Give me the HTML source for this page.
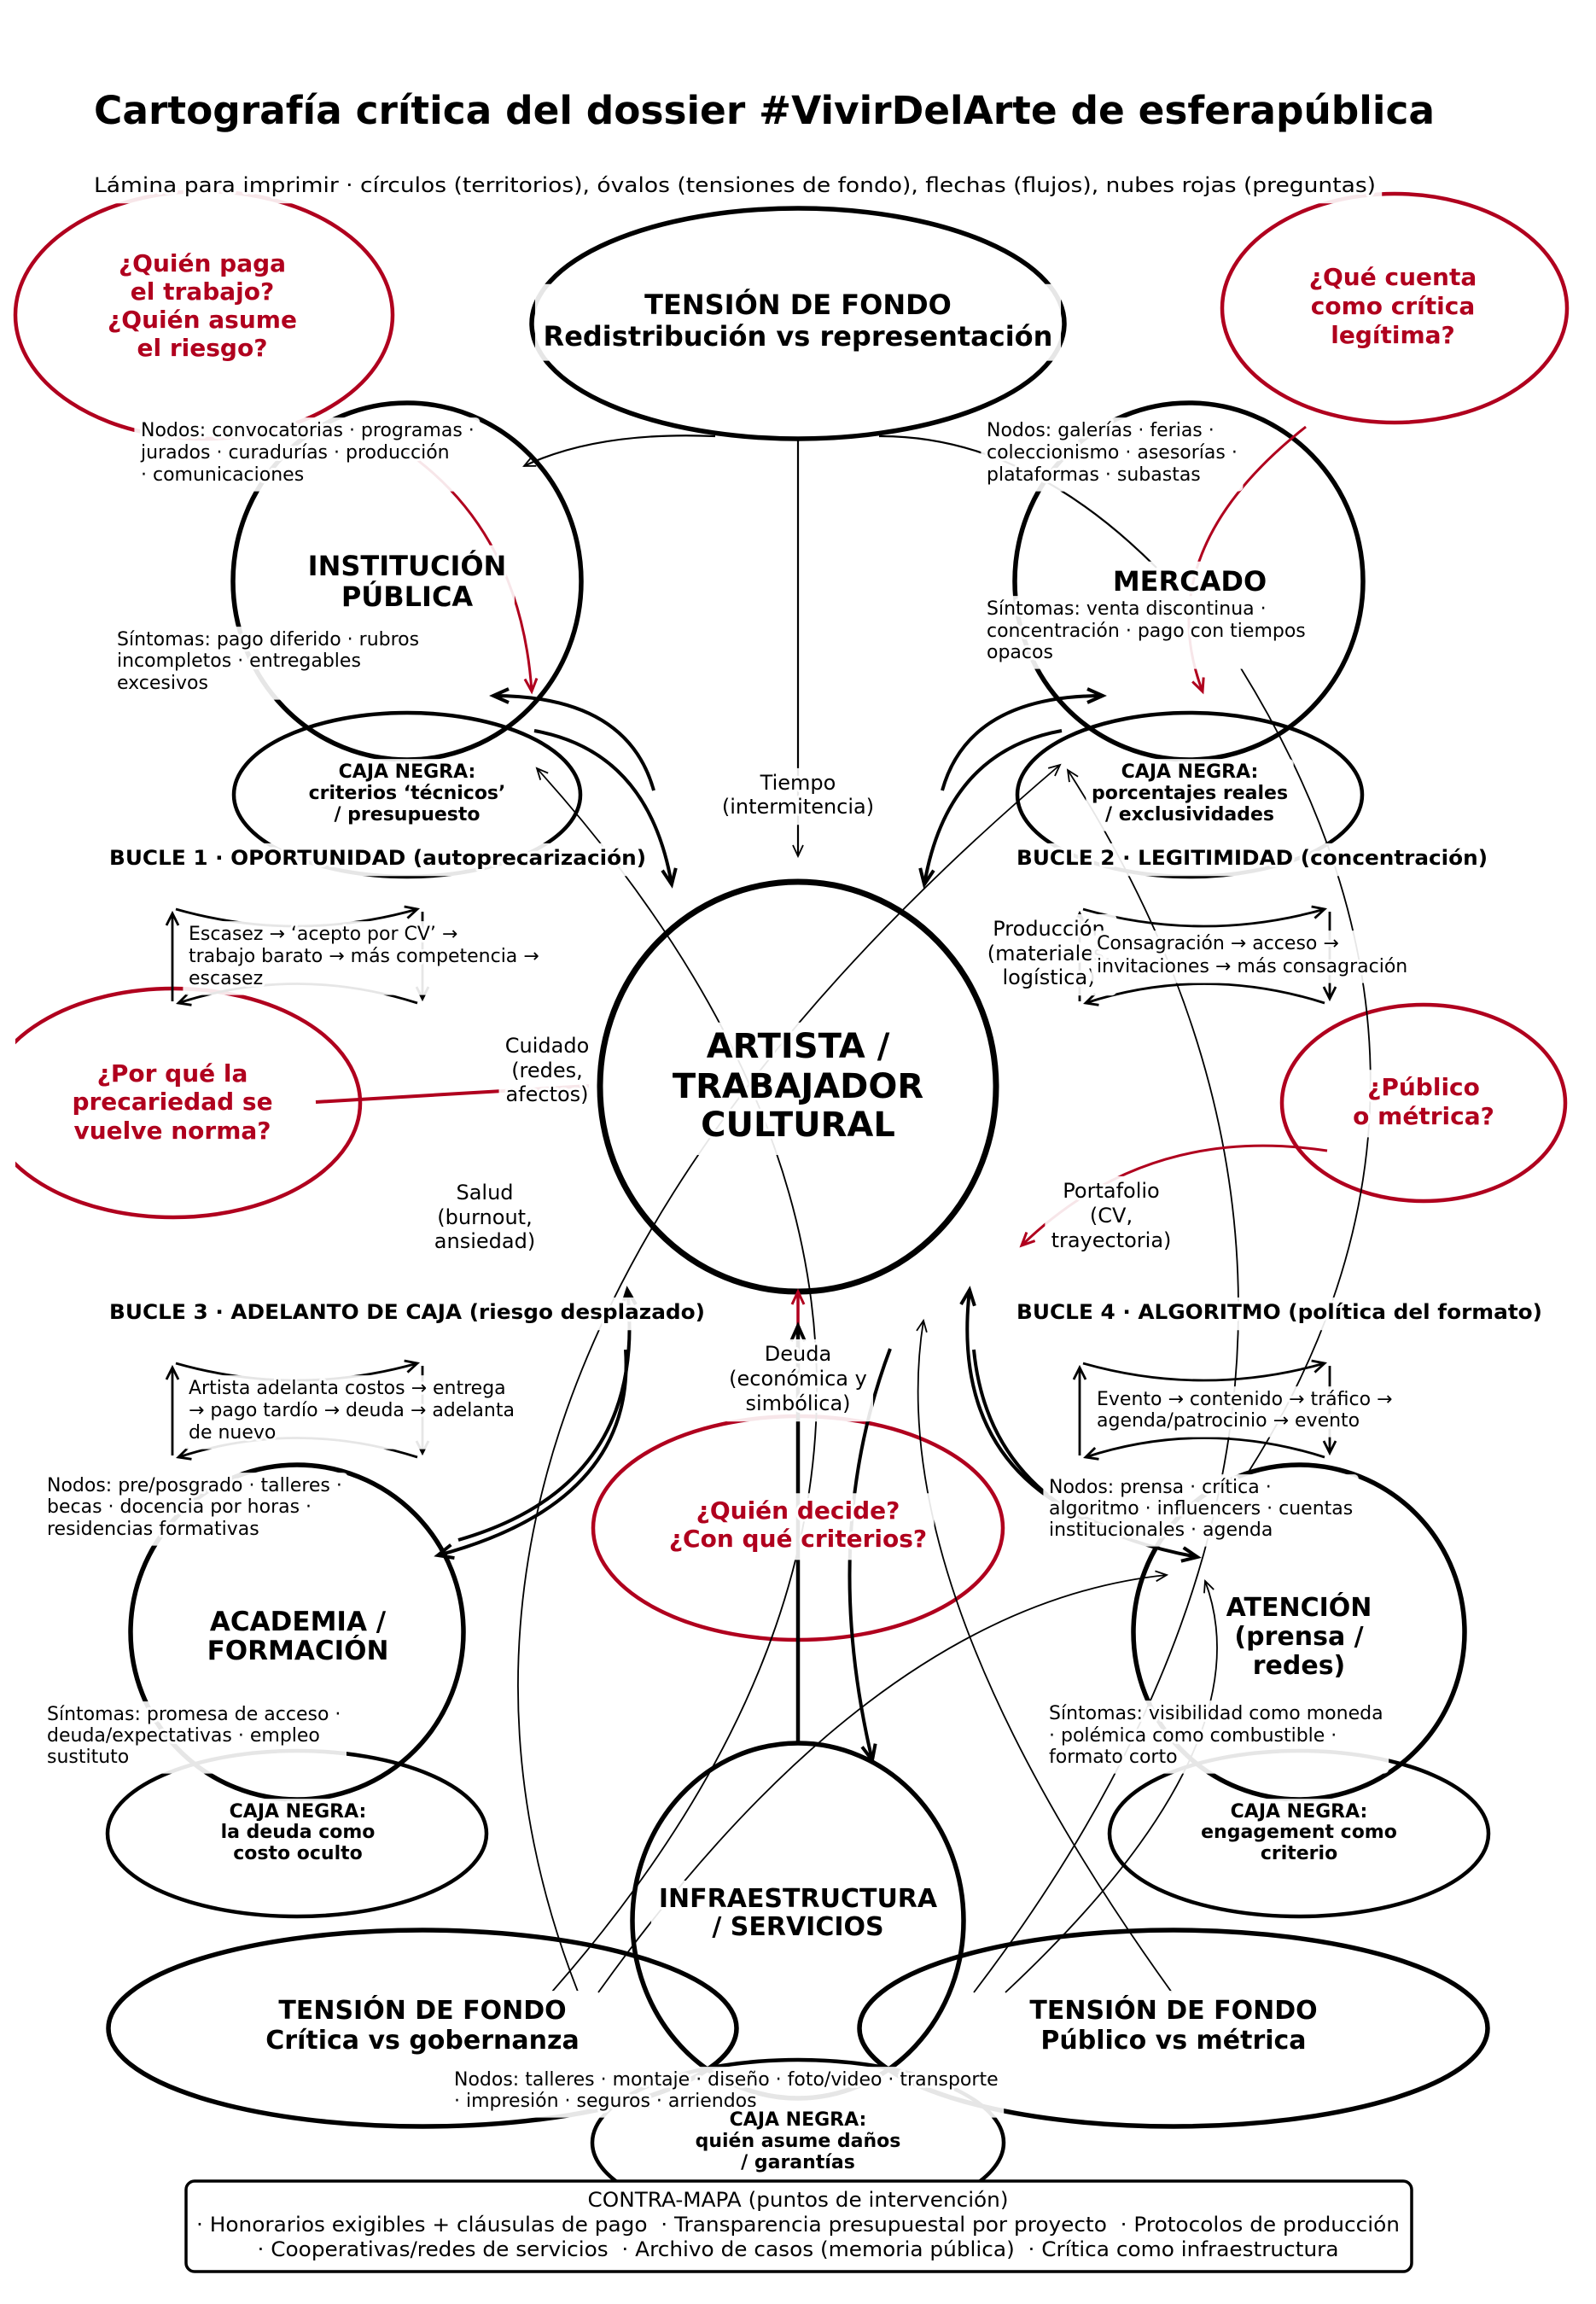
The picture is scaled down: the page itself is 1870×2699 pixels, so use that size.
<!DOCTYPE html>
<html><head><meta charset="utf-8"><style>
html,body{margin:0;padding:0;background:#fff}
svg{display:block}
text{font-family:"DejaVu Sans","Liberation Sans",sans-serif;fill:#000}
.h text,text.h{stroke:#fff;stroke-width:6px;stroke-linejoin:round;stroke-opacity:.9;paint-order:stroke}
.b{font-weight:bold}
.r{fill:#B0001E;font-weight:bold;font-size:28px}
.nd{font-size:22px}
.fl{font-size:24px;text-anchor:middle}
.cn{font-size:22px;font-weight:bold;text-anchor:middle}
.c{text-anchor:middle}
</style></head><body>
<svg id="sv" width="1870" height="2699" viewBox="0 0 1870 2699" xmlns="http://www.w3.org/2000/svg">
<defs>
<marker id="at" markerUnits="userSpaceOnUse" viewBox="-20 -10 22 20" refX="0" refY="0" markerWidth="22" markerHeight="20" orient="auto" overflow="visible"><path d="M-13,-6 L0,0 L-13,6" fill="none" stroke="#000" stroke-width="1.8"/></marker>
<marker id="ak" markerUnits="userSpaceOnUse" viewBox="-20 -10 22 20" refX="0" refY="0" markerWidth="22" markerHeight="20" orient="auto" overflow="visible"><path d="M-18,-8 L0,0 L-18,8" fill="none" stroke="#000" stroke-width="4"/></marker>
<marker id="ar" markerUnits="userSpaceOnUse" viewBox="-20 -10 22 20" refX="0" refY="0" markerWidth="22" markerHeight="20" orient="auto" overflow="visible"><path d="M-15,-7 L0,0 L-15,7" fill="none" stroke="#B0001E" stroke-width="3"/></marker>
<marker id="al" markerUnits="userSpaceOnUse" viewBox="-20 -10 22 20" refX="0" refY="0" markerWidth="22" markerHeight="20" orient="auto" overflow="visible"><path d="M-14,-7 L0,0 L-14,7" fill="none" stroke="#000" stroke-width="2.8"/></marker>
<clipPath id="cl"><rect x="18" y="0" width="1852" height="2699"/></clipPath>
</defs>
<rect width="1870" height="2699" fill="#fff"/>

<!-- red question clouds -->
<g fill="none" stroke="#B0001E" stroke-width="4.5">
<ellipse cx="239" cy="369" rx="221" ry="145"/>
<ellipse cx="1634" cy="361" rx="202" ry="134"/>
<ellipse cx="203" cy="1292" rx="219" ry="134" clip-path="url(#cl)"/>
<ellipse cx="1668" cy="1292" rx="166" ry="115"/>
<ellipse cx="935" cy="1790" rx="240" ry="131"/>
</g>

<!-- territories -->
<g fill="none" stroke="#000">
<ellipse cx="935" cy="379" rx="312" ry="135" stroke-width="5.5"/>
<ellipse cx="477" cy="681" rx="204" ry="209" stroke-width="5.5"/>
<ellipse cx="1393" cy="681" rx="204" ry="209" stroke-width="5.5"/>
<ellipse cx="935" cy="1273" rx="232" ry="240" stroke-width="7"/>
<ellipse cx="348" cy="1912" rx="195" ry="196" stroke-width="5.5"/>
<ellipse cx="1522" cy="1912" rx="194" ry="196" stroke-width="5.5"/>
<ellipse cx="935" cy="2250" rx="194" ry="208" stroke-width="5.5"/>
<ellipse cx="477" cy="931" rx="203" ry="96" stroke-width="4.5"/>
<ellipse cx="1394" cy="931" rx="202" ry="96" stroke-width="4.5"/>
<ellipse cx="348" cy="2148" rx="222" ry="97" stroke-width="4.5"/>
<ellipse cx="1522" cy="2148" rx="222" ry="97" stroke-width="4.5"/>
<ellipse cx="935" cy="2510" rx="241" ry="97" stroke-width="4.5"/>
<ellipse cx="495" cy="2376" rx="368" ry="115" stroke-width="5.5"/>
<ellipse cx="1375" cy="2376" rx="368" ry="115" stroke-width="5.5"/>
</g>

<!-- thin long arcs -->
<g fill="none" stroke="#000" stroke-width="1.8">
<path d="M647,2333 Q1276,1617 629,900" marker-end="url(#at)"/>
<path d="M677,2333 Q396,1615 1242,896" marker-end="url(#at)"/>
<path d="M1141,2334 Q1700,1602 1251,902" marker-end="url(#at)"/>
<path d="M1454,783 Q1753,1266 1463,1724"/>
<path d="M1373,2334 Q1032,1860 1082,1547" marker-end="url(#at)"/>
<path d="M1178,2334 Q1485,2047 1412,1852" marker-end="url(#at)"/>
<path d="M701,2334 Q1026,1880 1367,1845" marker-end="url(#at)"/>
<path d="M838,511 Q700,505 614,546" stroke-width="2.2" marker-end="url(#at)"/>
<path d="M1030,511 Q1200,510 1355,665" stroke-width="2.2"/>
<path d="M935,514 L935,1003" stroke-width="2.2" marker-end="url(#at)"/>
</g>

<!-- red flows -->
<g fill="none" stroke="#B0001E" stroke-width="3">
<path d="M470,525 Q610,620 623,810" marker-end="url(#ar)"/>
<path d="M1530,500 Q1346,645 1409,810" marker-end="url(#ar)"/>
<path d="M370,1291 L690,1272" stroke-width="4"/>
<path d="M1555,1348 Q1344,1316 1197,1459" marker-end="url(#ar)"/>
<path d="M935,1600 L935,1513" stroke-width="3.5" marker-end="url(#ar)"/>
</g>

<!-- thick flows -->
<g fill="none" stroke="#000" stroke-width="4">
<path d="M626,856 Q760,880 787,1036" marker-end="url(#ak)"/>
<path d="M766,926 Q735,815 578,815" marker-end="url(#ak)"/>
<path d="M1104,926 Q1135,815 1292,815" marker-end="url(#ak)"/>
<path d="M1244,856 Q1110,880 1083,1036" marker-end="url(#ak)"/>
<path d="M537,1804 Q760,1740 735,1511" marker-end="url(#ak)"/>
<path d="M733,1581 Q745,1760 513,1822" marker-end="url(#ak)"/>
<path d="M1333,1800 Q1110,1740 1136,1511" marker-end="url(#ak)"/>
<path d="M1141,1581 Q1160,1780 1403,1824" marker-end="url(#ak)"/>
<path d="M1043,1580 Q960,1800 1022,2062" marker-end="url(#ak)"/>
<path d="M935,2042 L935,1553" stroke-width="4.5" marker-end="url(#ak)"/>
</g>

<!-- loops -->
<g fill="none" stroke="#000" stroke-width="2.8">
<g>
<path d="M202,1173 L202,1070" marker-end="url(#al)"/>
<path d="M206,1065 Q347,1105 489,1065" marker-end="url(#al)"/>
<path d="M495,1068 L495,1170" marker-end="url(#al)"/>
<path d="M489,1175 Q347,1130 209,1175" marker-end="url(#al)"/>
</g>
<g transform="translate(0,532)">
<path d="M202,1173 L202,1070" marker-end="url(#al)"/>
<path d="M206,1065 Q347,1105 489,1065" marker-end="url(#al)"/>
<path d="M495,1068 L495,1170" marker-end="url(#al)"/>
<path d="M489,1175 Q347,1130 209,1175" marker-end="url(#al)"/>
</g>
<g transform="translate(1063,0)">
<path d="M202,1173 L202,1070" marker-end="url(#al)"/>
<path d="M206,1065 Q347,1105 489,1065" marker-end="url(#al)"/>
<path d="M495,1068 L495,1170" marker-end="url(#al)"/>
<path d="M489,1175 Q347,1130 209,1175" marker-end="url(#al)"/>
</g>
<g transform="translate(1063,532)">
<path d="M202,1173 L202,1070" marker-end="url(#al)"/>
<path d="M206,1065 Q347,1105 489,1065" marker-end="url(#al)"/>
<path d="M495,1068 L495,1170" marker-end="url(#al)"/>
<path d="M489,1175 Q347,1130 209,1175" marker-end="url(#al)"/>
</g>
</g>

<!-- contra-mapa box -->
<rect x="218" y="2555" width="1436" height="106" rx="10" ry="10" fill="#fff" stroke="#000" stroke-width="3.5"/>

<!-- TEXT -->
<text x="110" y="145" class="b" font-size="45" textLength="1571" lengthAdjust="spacingAndGlyphs">Cartografía crítica del dossier #VivirDelArte de esferapública</text>
<g class="lbl h"><text x="110" y="225" font-size="24" textLength="1502" lengthAdjust="spacingAndGlyphs">Lámina para imprimir · círculos (territorios), óvalos (tensiones de fondo), flechas (flujos), nubes rojas (preguntas)</text></g>

<!-- red questions -->
<g class="lbl h c">
<text x="237" y="318" class="r">¿Quién paga</text>
<text x="237" y="351" class="r">el trabajo?</text>
<text x="237" y="384" class="r">¿Quién asume</text>
<text x="237" y="417" class="r">el riesgo?</text>
</g>
<g class="lbl h c">
<text x="1632" y="334" class="r">¿Qué cuenta</text>
<text x="1632" y="368" class="r">como crítica</text>
<text x="1632" y="402" class="r">legítima?</text>
</g>
<g class="lbl h c">
<text x="202" y="1267" class="r">¿Por qué la</text>
<text x="202" y="1300" class="r">precariedad se</text>
<text x="202" y="1334" class="r">vuelve norma?</text>
</g>
<g class="lbl h c">
<text x="1668" y="1283" class="r">¿Público</text>
<text x="1668" y="1317" class="r">o métrica?</text>
</g>
<g class="lbl h c">
<text x="935" y="1779" class="r">¿Quién decide?</text>
<text x="935" y="1812" class="r">¿Con qué criterios?</text>
</g>

<!-- tensions -->
<g class="lbl h c b">
<text x="935" y="368" font-size="32">TENSIÓN DE FONDO</text>
<text x="935" y="405" font-size="32">Redistribución vs representación</text>
</g>
<g class="lbl h c b">
<text x="495" y="2365" font-size="30">TENSIÓN DE FONDO</text>
<text x="495" y="2400" font-size="30">Crítica vs gobernanza</text>
</g>
<g class="lbl h c b">
<text x="1375" y="2365" font-size="30">TENSIÓN DE FONDO</text>
<text x="1375" y="2400" font-size="30">Público vs métrica</text>
</g>

<!-- node titles -->
<g class="lbl h c b">
<text x="477" y="674" font-size="32">INSTITUCIÓN</text>
<text x="477" y="710" font-size="32">PÚBLICA</text>
</g>
<g class="lbl h c b"><text x="1394" y="692" font-size="32">MERCADO</text></g>
<g class="lbl h c b">
<text x="935" y="1239" font-size="40">ARTISTA /</text>
<text x="935" y="1286" font-size="40">TRABAJADOR</text>
<text x="935" y="1331" font-size="40">CULTURAL</text>
</g>
<g class="lbl h c b">
<text x="349" y="1910" font-size="31">ACADEMIA /</text>
<text x="349" y="1944" font-size="31">FORMACIÓN</text>
</g>
<g class="lbl h c b">
<text x="1522" y="1893" font-size="30">ATENCIÓN</text>
<text x="1522" y="1927" font-size="30">(prensa /</text>
<text x="1522" y="1961" font-size="30">redes)</text>
</g>
<g class="lbl h c b">
<text x="935" y="2234" font-size="30">INFRAESTRUCTURA</text>
<text x="935" y="2267" font-size="30">/ SERVICIOS</text>
</g>

<!-- node details -->
<g class="lbl h nd">
<text x="165" y="511">Nodos: convocatorias · programas ·</text>
<text x="165" y="537">jurados · curadurías · producción</text>
<text x="165" y="563">· comunicaciones</text>
</g>
<g class="lbl h nd">
<text x="137" y="756">Síntomas: pago diferido · rubros</text>
<text x="137" y="781">incompletos · entregables</text>
<text x="137" y="807">excesivos</text>
</g>
<g class="lbl h nd">
<text x="1156" y="511">Nodos: galerías · ferias ·</text>
<text x="1156" y="537">coleccionismo · asesorías ·</text>
<text x="1156" y="563">plataformas · subastas</text>
</g>
<g class="lbl h nd">
<text x="1156" y="720">Síntomas: venta discontinua ·</text>
<text x="1156" y="746">concentración · pago con tiempos</text>
<text x="1156" y="771">opacos</text>
</g>
<g class="lbl h nd">
<text x="55" y="1747">Nodos: pre/posgrado · talleres ·</text>
<text x="55" y="1772">becas · docencia por horas ·</text>
<text x="55" y="1798">residencias formativas</text>
</g>
<g class="lbl h nd">
<text x="55" y="2015">Síntomas: promesa de acceso ·</text>
<text x="55" y="2040">deuda/expectativas · empleo</text>
<text x="55" y="2065">sustituto</text>
</g>
<g class="lbl h nd">
<text x="1229" y="1749">Nodos: prensa · crítica ·</text>
<text x="1229" y="1774">algoritmo · influencers · cuentas</text>
<text x="1229" y="1799">institucionales · agenda</text>
</g>
<g class="lbl h nd">
<text x="1229" y="2014">Síntomas: visibilidad como moneda</text>
<text x="1229" y="2040">· polémica como combustible ·</text>
<text x="1229" y="2065">formato corto</text>
</g>
<g class="lbl h nd">
<text x="532" y="2443">Nodos: talleres · montaje · diseño · foto/video · transporte</text>
<text x="532" y="2468">· impresión · seguros · arriendos</text>
</g>

<!-- caja negra labels -->
<g class="lbl h">
<text x="477" y="911" class="cn">CAJA NEGRA:</text>
<text x="477" y="936" class="cn">criterios ‘técnicos’</text>
<text x="477" y="961" class="cn">/ presupuesto</text>
</g>
<g class="lbl h">
<text x="1394" y="911" class="cn">CAJA NEGRA:</text>
<text x="1394" y="936" class="cn">porcentajes reales</text>
<text x="1394" y="961" class="cn">/ exclusividades</text>
</g>
<g class="lbl h">
<text x="349" y="2129" class="cn">CAJA NEGRA:</text>
<text x="349" y="2153" class="cn">la deuda como</text>
<text x="349" y="2178" class="cn">costo oculto</text>
</g>
<g class="lbl h">
<text x="1522" y="2129" class="cn">CAJA NEGRA:</text>
<text x="1522" y="2153" class="cn">engagement como</text>
<text x="1522" y="2178" class="cn">criterio</text>
</g>
<g class="lbl h">
<text x="935" y="2490" class="cn">CAJA NEGRA:</text>
<text x="935" y="2515" class="cn">quién asume daños</text>
<text x="935" y="2540" class="cn">/ garantías</text>
</g>

<!-- flow labels -->
<g class="lbl h">
<text x="935" y="925" class="fl">Tiempo</text>
<text x="935" y="953" class="fl">(intermitencia)</text>
</g>
<g class="lbl h">
<text x="641" y="1233" class="fl">Cuidado</text>
<text x="641" y="1262" class="fl">(redes,</text>
<text x="641" y="1290" class="fl">afectos)</text>
</g>
<g class="lbl h">
<text x="568" y="1405" class="fl">Salud</text>
<text x="568" y="1434" class="fl">(burnout,</text>
<text x="568" y="1462" class="fl">ansiedad)</text>
</g>
<g class="lbl h">
<text x="1229" y="1096" class="fl">Producción</text>
<text x="1229" y="1125" class="fl">(materiales,</text>
<text x="1229" y="1153" class="fl">logística)</text>
</g>
<g class="lbl h">
<text x="1302" y="1403" class="fl">Portafolio</text>
<text x="1302" y="1432" class="fl">(CV,</text>
<text x="1302" y="1461" class="fl">trayectoria)</text>
</g>
<g class="lbl h">
<text x="935" y="1594" class="fl">Deuda</text>
<text x="935" y="1623" class="fl">(económica y</text>
<text x="935" y="1652" class="fl">simbólica)</text>
</g>

<!-- bucle labels -->
<g class="lbl h"><text x="128" y="1013" class="b" font-size="24" textLength="629" lengthAdjust="spacingAndGlyphs">BUCLE 1 · OPORTUNIDAD (autoprecarización)</text></g>
<g class="lbl h"><text x="1191" y="1013" class="b" font-size="24" textLength="552" lengthAdjust="spacingAndGlyphs">BUCLE 2 · LEGITIMIDAD (concentración)</text></g>
<g class="lbl h"><text x="128" y="1545" class="b" font-size="24" textLength="698" lengthAdjust="spacingAndGlyphs">BUCLE 3 · ADELANTO DE CAJA (riesgo desplazado)</text></g>
<g class="lbl h"><text x="1191" y="1545" class="b" font-size="24" textLength="616" lengthAdjust="spacingAndGlyphs">BUCLE 4 · ALGORITMO (política del formato)</text></g>

<!-- loop texts -->
<g class="lbl h nd">
<text x="221" y="1101">Escasez → ‘acepto por CV’ →</text>
<text x="221" y="1127">trabajo barato → más competencia →</text>
<text x="221" y="1153">escasez</text>
</g>
<g class="lbl h nd">
<text x="1285" y="1112">Consagración → acceso →</text>
<text x="1285" y="1139">invitaciones → más consagración</text>
</g>
<g class="lbl h nd">
<text x="221" y="1633">Artista adelanta costos → entrega</text>
<text x="221" y="1659">→ pago tardío → deuda → adelanta</text>
<text x="221" y="1685">de nuevo</text>
</g>
<g class="lbl h nd">
<text x="1285" y="1646">Evento → contenido → tráfico →</text>
<text x="1285" y="1671">agenda/patrocinio → evento</text>
</g>

<!-- contra-mapa text -->
<text x="935" y="2585" class="c" font-size="24" textLength="493" lengthAdjust="spacingAndGlyphs">CONTRA-MAPA (puntos de intervención)</text>
<text x="935" y="2614" class="c" font-size="24" xml:space="preserve" style="white-space:pre" textLength="1410" lengthAdjust="spacingAndGlyphs">· Honorarios exigibles + cláusulas de pago  · Transparencia presupuestal por proyecto  · Protocolos de producción</text>
<text x="935" y="2643" class="c" font-size="24" xml:space="preserve" style="white-space:pre" textLength="1267" lengthAdjust="spacingAndGlyphs">· Cooperativas/redes de servicios  · Archivo de casos (memoria pública)  · Crítica como infraestructura</text>
</svg>
<script>
(function(){
  var NS="http://www.w3.org/2000/svg";
  var gs=document.querySelectorAll('g.lbl');
  for(var i=0;i<gs.length;i++){
    var g=gs[i];
    try{
      var b=g.getBBox();
      var t=g.querySelector('text');
      var fs=parseFloat(window.getComputedStyle(t).fontSize)||22;
      var p=0.3*fs;
      var top=b.y+0.168*fs-p;
      var h=b.height-0.168*fs+2*p;
      var r=document.createElementNS(NS,'rect');
      r.setAttribute('x',b.x-p);
      r.setAttribute('y',top);
      r.setAttribute('width',b.width+2*p);
      r.setAttribute('height',h);
      r.setAttribute('rx',p*0.8);
      r.setAttribute('fill','#fff');
      r.setAttribute('fill-opacity','0.9');
      r.setAttribute('stroke','none');
      g.insertBefore(r,g.firstChild);
    }catch(e){}
  }
})();
</script>
</body></html>
